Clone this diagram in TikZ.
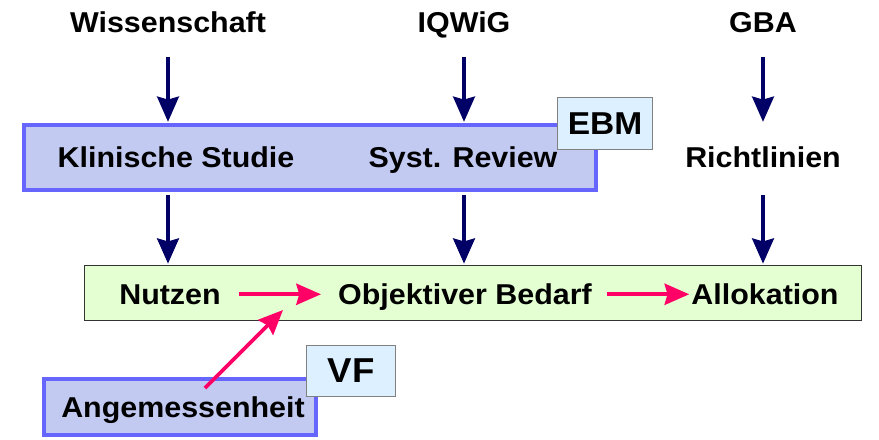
\documentclass[tikz,border=0pt]{standalone}
\usepackage{fontspec}
\setmainfont{Liberation Sans}[FakeStretch=1.06]
\usetikzlibrary{arrows.meta,calc}

\definecolor{navyarr}{HTML}{000066}
\definecolor{pinkarr}{HTML}{FF0066}
\definecolor{bluefill}{HTML}{C2CAF2}
\definecolor{blueline}{HTML}{6666FF}
\definecolor{greenfill}{HTML}{E4FFD2}
\definecolor{tagfill}{HTML}{DDF0FF}

\tikzset{
  lbl/.style={font=\bfseries\fontsize{24.5}{29}\selectfont, inner sep=0pt, anchor=base},
  bluebox/.style={draw=blueline, fill=bluefill, line width=3.4pt, inner sep=0pt},
  greenbox/.style={draw=black!80, fill=greenfill, line width=1.1pt, inner sep=0pt},
  tagbox/.style={draw=black!50, fill=tagfill, line width=1.1pt, inner sep=0pt},
  darr/.style={draw=navyarr, line width=3.3pt, -{Stealth[length=21.5pt, width=18.5pt, inset=2.5pt]}},
  parr/.style={draw=pinkarr, line width=3.3pt, -{Stealth[length=21pt, width=18pt, inset=2.5pt]}}
}

\begin{document}
\begin{tikzpicture}[x=0.03cm, y=-0.03cm]
\useasboundingbox (0,0) rectangle (879,439);

% Boxes
\node[bluebox, minimum width=17.16cm, minimum height=1.95cm] (blue) at (310,157.5) {};
\node[tagbox, minimum width=2.85cm, minimum height=1.56cm,
  font=\bfseries\fontsize{27}{32}\selectfont] (ebm) at (605,123.5) {EBM};
\node[greenbox, minimum width=23.31cm, minimum height=1.65cm] (green) at (473,293) {};
\node[bluebox, minimum width=8.16cm, minimum height=1.68cm] (angbox) at (180,407) {};
\node[tagbox, minimum width=2.67cm, minimum height=1.53cm,
  font=\bfseries\fontsize{29.5}{35}\selectfont] (vf) at (351,371) {VF};

% Top row
\node[lbl] (wiss) at (168,32) {Wissenschaft};
\node[lbl] (iqwig) at (464,32) {IQWiG};
\node[lbl] (gba) at (763,32) {GBA};

% Second row
\node[lbl] (klin) at (176,167) {Klinische Studie};
\node[lbl] (syst) at (463,167) {Syst. Review};
\node[lbl] (richt) at (763,167) {Richtlinien};

% Third row
\node[lbl] (nutzen) at (170,304) {Nutzen};
\node[lbl] (objbed) at (465,304) {Objektiver Bedarf};
\node[lbl] (alloc) at (765,304) {Allokation};

\node[lbl] (angem) at (183,417) {Angemessenheit};

% Down arrows
\draw[darr, shorten >=1pt] ($(wiss.base)+(0,25)$) -- (wiss |- blue.north);
\draw[darr, shorten >=1pt] ($(iqwig.base)+(0,25)$) -- (iqwig |- blue.north);
\draw[darr, shorten >=1pt] ($(gba.base)+(0,25)$) -- (gba |- blue.north);
\draw[darr, shorten >=1pt] ($(wiss |- blue.south)+(0,3)$) -- (wiss |- green.north);
\draw[darr, shorten >=1pt] ($(iqwig |- blue.south)+(0,3)$) -- (iqwig |- green.north);
\draw[darr, shorten >=1pt] ($(gba |- blue.south)+(0,3)$) -- (gba |- green.north);

% Pink arrows
\draw[parr] ($(nutzen.east)+(18,0)$) -- ($(objbed.west |- nutzen.east)+(-17,0)$);
\draw[parr] ($(objbed.east |- nutzen.east)+(15,0)$) -- ($(alloc.west |- nutzen.east)+(-2,0)$);

\coordinate (angtop) at (205,388);
\coordinate (merge) at (283,310);
\draw[parr] (angtop) -- (merge);

\end{tikzpicture}
\end{document}
